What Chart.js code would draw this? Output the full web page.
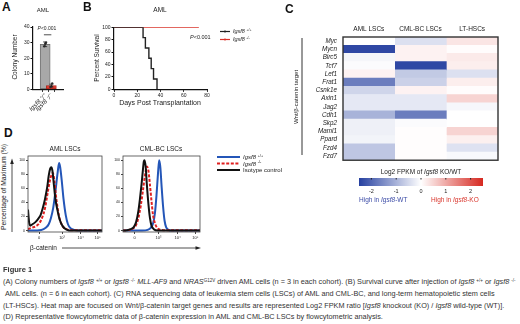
<!DOCTYPE html>
<html>
<head>
<meta charset="utf-8">
<script src="https://cdn.jsdelivr.net/npm/chart.js@4.4.1/dist/chart.umd.min.js"></script>
<style>
  body { margin: 0; background: #fff; }
  #fig { position: relative; width: 520px; height: 324px; overflow: hidden;
         font-family: "Liberation Sans", Arial, sans-serif; color: #222; }
  #fig canvas, #fig .t, #fig svg { position: absolute; }
  .t { white-space: nowrap; line-height: 1; }
  .c { transform: translate(-50%, -50%); }
  .r { transform: translate(-50%, -50%) rotate(-90deg); }
  .lm { transform: translateY(-50%); }
  .let { font-weight: bold; font-size: 12px; color: #111; }
  .cap { font-size: 7.3px; left: 3px; transform: translateY(-50%); color: #333; }
  sup { font-size: 0.62em; vertical-align: 0; position: relative; top: -0.55em; }
</style>
</head>
<body>
<div id="fig">
  <svg width="520" height="324" style="left:0;top:0">
    <line x1="302" y1="38" x2="302" y2="155" stroke="#333" stroke-width="1"/>
    <line x1="12" y1="232" x2="12" y2="163" stroke="#222" stroke-width="0.8"/>
    <polygon points="12,158.5 10.2,164 13.8,164" fill="#222"/>
    <line x1="62" y1="248" x2="196" y2="248" stroke="#222" stroke-width="0.8"/>
    <polygon points="201,248 195.5,246.2 195.5,249.8" fill="#222"/>
    <line x1="220" y1="31.5" x2="230" y2="31.5" stroke="#222" stroke-width="1.2"/>
    <circle cx="225" cy="31.5" r="1.1" fill="#222"/>
    <line x1="220" y1="39.5" x2="230" y2="39.5" stroke="#d9342b" stroke-width="1.2"/>
    <circle cx="225" cy="39.5" r="1.1" fill="#d9342b"/>
    <line x1="217" y1="157" x2="240" y2="157" stroke="#2456b8" stroke-width="2"/>
    <line x1="217" y1="163.5" x2="240" y2="163.5" stroke="#e02020" stroke-width="2" stroke-dasharray="3,1.6"/>
    <line x1="217" y1="170" x2="240" y2="170" stroke="#111" stroke-width="2"/>
  </svg>

  <canvas id="cA" width="70" height="110" style="left:0;top:14px"></canvas>
  <canvas id="cB" width="140" height="100" style="left:82px;top:14px"></canvas>
  <canvas id="cC" width="205" height="150" style="left:300px;top:20px"></canvas>
  <canvas id="cS" width="145" height="26" style="left:350px;top:174px"></canvas>
  <canvas id="cD1" width="95" height="96" style="left:12px;top:148px"></canvas>
  <canvas id="cD2" width="97" height="96" style="left:108px;top:148px"></canvas>

  <div class="t let" style="left:2px;top:1px">A</div>
  <div class="t let" style="left:83px;top:1px">B</div>
  <div class="t let" style="left:285px;top:3px">C</div>
  <div class="t let" style="left:4px;top:127px">D</div>

  <div class="t c" style="left:43px;top:10px;font-size:6px">AML</div>
  <div class="t c" style="left:47px;top:28px;font-size:5px"><i>P</i>&lt;0.001</div>
  <div class="t r" style="left:15px;top:57px;font-size:6.5px">Colony Number</div>

  <div class="t c" style="left:160px;top:10px;font-size:6.5px">AML</div>
  <div class="t lm" style="left:190px;top:37.5px;font-size:5.5px"><i>P</i>&lt;0.001</div>
  <div class="t r" style="left:97px;top:58px;font-size:6.5px">Percent Survival</div>
  <div class="t c" style="left:160px;top:102px;font-size:7px">Days Post Transplantation</div>
  <div class="t lm" style="left:233px;top:31.5px;font-size:5.5px"><i>Igsf8</i> <sup>+/+</sup></div>
  <div class="t lm" style="left:233px;top:39.5px;font-size:5.5px"><i>Igsf8</i> <sup>-/-</sup></div>

  <div class="t r" style="left:296px;top:97px;font-size:6px">Wnt/β-catenin target</div>
  <div class="t c" style="left:421px;top:172px;font-size:6.5px">Log2 FPKM of <i>Igsf8</i> KO/WT</div>
  <div class="t lm" style="left:359px;top:200px;font-size:6.5px;color:#3a4aa6">High in <i>Igsf8</i>-WT</div>
  <div class="t lm" style="left:431px;top:200px;font-size:6.5px;color:#d9342b">High in <i>Igsf8</i>-KO</div>

  <div class="t c" style="left:65px;top:149px;font-size:6.5px">AML LSCs</div>
  <div class="t c" style="left:161px;top:149px;font-size:6.5px">CML-BC LSCs</div>
  <div class="t r" style="left:4px;top:187px;font-size:6.8px">Percentage of Maximum (%)</div>
  <div class="t lm" style="left:30px;top:248px;font-size:6.5px">β-catenin</div>
  <div class="t lm" style="left:243px;top:157px;font-size:6px"><i>Igsf8</i> <sup>+/+</sup></div>
  <div class="t lm" style="left:243px;top:163.5px;font-size:6px"><i>Igsf8</i> <sup>-/-</sup></div>
  <div class="t lm" style="left:243px;top:170px;font-size:6px">Isotype control</div>

  <div class="t lm" style="left:3px;top:270px;font-size:7.5px;font-weight:bold;color:#333">Figure 1</div>
  <div class="t cap" style="top:282px">(A) Colony numbers of <i>Igsf8</i> <sup>+/+</sup> or <i>Igsf8</i> <sup>-/-</sup> <i>MLL-AF9</i> and <i>NRAS</i><sup>G12V</sup> driven AML cells (n = 3 in each cohort). (B) Survival curve after injection of <i>Igsf8</i> <sup>+/+</sup> or <i>Igsf8</i> <sup>-/-</sup></div>
  <div class="t cap" style="top:294px;left:5px">AML cells. (n = 6 in each cohort). (C) RNA sequencing data of leukemia stem cells (LSCs) of AML and CML-BC, and long-term hematopoietic stem cells</div>
  <div class="t cap" style="top:305.5px">(LT-HSCs). Heat map are focused on Wnt/β-catenin target genes and results are represented Log2 FPKM ratio [<i>Igsf8</i> knockout (KO) / <i>Igsf8</i> wild-type (WT)].</div>
  <div class="t cap" style="top:317px">(D) Representative flowcytometric data of β-catenin expression in AML and CML-BC LSCs by flowcytometric analysis.</div>
</div>

<script>
// A: colony numbers
const colonyGroups = ['Igsf8 ⁺/⁺', 'Igsf8 ⁻/⁻'];
const colonyMean = [28.9, 2.4];
const colonyErr = [1.5, 0.9];
const colonyWT = [27.6, 29.2, 29.9];
const colonyKO = [1.4, 2.0, 3.8];
const dotSpread = [-0.14, 0.02, 0.14];
const sigLineY = 35;

// B: survival
const wtDays = [0, 25, 27, 30, 32, 34, 37];
const wtSurvival = [100, 83.3, 66.7, 50, 33.3, 16.7, 0];
const koDays = [0, 73];
const koSurvival = [100, 100];

// C: heat map, log2 FPKM KO/WT
const genes = ['Myc', 'Mycn', 'Birc5', 'Tcf7', 'Lef1', 'Frat1', 'Csnk1e', 'Axin1',
               'Jag2', 'Cdh1', 'Skp2', 'Maml1', 'Ppard', 'Fzd4', 'Fzd7'];
const cellTypes = ['AML LSCs', 'CML-BC LSCs', 'LT-HSCs'];
const amlLog2 = [0, -2.4, -0.12, -0.05, 0.15, -1.7, -0.55, -0.3, -0.3, -1.0, -0.2, -0.2, -0.15, -0.75, -0.75];
const cmlLog2 = [-0.4, 0.15, 0.15, -2.4, -0.7, -0.6, 0.15, -0.3, -0.3, -1.7, -0.05, 0.02, 0.02, 0.02, 0.02];
const ltLog2  = [0.3, 0.03, 0.25, 0.2, -0.4, 0.2, 0.03, 0.5, -0.1, 0, 0, 0.5, 0.18, -0.38, -0.08];
const scaleTicks = [-2, -1, 0, 1, 2];
const blueEnd = [38, 64, 160];
const redEnd = [214, 40, 32];

// D: flow histograms (x = % of axis width, y = % of max)
const flowTickPos = [15, 46, 71, 94];
const flowTickLabels = ['0', '10³', '10⁴', '10⁵'];
const amlIsoX = [0, 1.5, 3, 6, 10, 14, 17, 20, 23, 26, 28, 30, 31.5, 33, 35, 37, 40, 43, 47, 52, 60, 100];
const amlIsoY = [30, 12, 7, 9, 12, 17, 22, 32, 45, 62, 78, 88, 90, 85, 65, 45, 28, 15, 6, 1.5, 0, 0];
const amlKoX = [0, 5, 10, 15, 19, 23, 26, 29, 31, 33.5, 35.5, 37.5, 40, 43, 47, 52, 58, 100];
const amlKoY = [2, 4, 6, 10, 18, 32, 50, 68, 77, 82, 72, 52, 32, 16, 6, 2, 0.5, 0.5];
const amlWtX = [0, 18, 24, 28, 31, 34, 37, 40, 42, 43.5, 45.5, 48, 51, 54, 58, 63, 68, 100];
const amlWtY = [0, 1, 4, 9, 18, 32, 55, 82, 96, 90, 72, 45, 22, 9, 3, 1, 0, 0];
const cmlIsoX = [0, 5, 10, 14, 17, 20, 22, 24, 25.5, 27, 28, 29.5, 31, 33, 35, 37, 40, 45, 100];
const cmlIsoY = [0, 0.5, 2, 5, 12, 28, 45, 65, 82, 98, 100, 90, 65, 38, 18, 7, 2, 0, 0];
const cmlKoX = [0, 8, 13, 17, 20, 23, 26, 28.5, 31, 33, 35, 37, 39, 42, 45, 50, 55, 100];
const cmlKoY = [0, 1, 3, 8, 18, 35, 58, 78, 91, 85, 65, 42, 22, 9, 3, 1, 0.5, 0.5];
const cmlWtX = [0, 25, 32, 36, 39, 41.5, 43.5, 45.5, 47, 48.5, 50, 52, 54, 56, 59, 63, 100];
const cmlWtY = [0, 0, 1, 4, 10, 25, 50, 82, 100, 90, 65, 35, 14, 5, 1, 0, 0];

Chart.defaults.font.family = '"Liberation Sans", Arial, sans-serif';
Chart.defaults.color = '#222';
Chart.defaults.animation = false;
Chart.defaults.responsive = false;
Chart.defaults.plugins.legend.display = false;
Chart.defaults.plugins.tooltip.enabled = false;

const pts = (xs, ys) => xs.map((x, i) => ({ x: x, y: ys[i] }));

function heatColor(v) {
    const t = Math.min(Math.abs(v) / 2.5, 1);
    const end = v < 0 ? blueEnd : redEnd;
    return 'rgb(' + end.map(e => Math.round(255 + (e - 255) * t)).join(',') + ')';
}

const frame = (color, width) => ({
    id: 'frame',
    afterDraw(chart) {
        const a = chart.chartArea, ctx = chart.ctx;
        ctx.save();
        ctx.strokeStyle = color;
        ctx.lineWidth = width;
        ctx.strokeRect(a.left, a.top, a.right - a.left, a.bottom - a.top);
        ctx.restore();
    }
});

// ---- A ----
new Chart(document.getElementById('cA'), {
    type: 'bar',
    data: {
        datasets: [
            {
                type: 'scatter',
                data: colonyWT.map((v, i) => ({ x: dotSpread[i], y: v }))
                    .concat(colonyKO.map((v, i) => ({ x: 1 + dotSpread[i], y: v }))),
                pointRadius: 1.2,
                backgroundColor: '#333',
                borderWidth: 0
            },
            {
                data: colonyMean.map((v, i) => ({ x: i, y: v })),
                backgroundColor: ['#a8a8a8', '#dc3a2e'],
                borderColor: ['#666', '#a82820'],
                borderWidth: 0.8,
                borderSkipped: false,
                barThickness: 10
            }
        ]
    },
    options: {
        devicePixelRatio: 1,
        layout: { padding: { left: 0, right: 7, top: 13, bottom: 0 } },
        scales: {
            x: {
                type: 'linear', min: -0.75, max: 1.67,
                afterFit: s => { s.height = 34.7; },
                afterBuildTicks: s => { s.ticks = [{ value: 0 }, { value: 1 }]; },
                ticks: { callback: v => colonyGroups[v], minRotation: 45, maxRotation: 45, autoSkip: false,
                         font: { size: 6.2, style: 'italic' }, padding: 1 },
                grid: { drawOnChartArea: false, tickLength: 2.5, color: '#111' },
                border: { color: '#111', width: 1.2 }
            },
            y: {
                min: 0, max: 40,
                afterFit: s => { s.width = 33; },
                ticks: { stepSize: 10, font: { size: 5 }, padding: 1 },
                grid: { drawOnChartArea: false, tickLength: 2.5, color: '#111' },
                border: { color: '#111', width: 1.2 }
            }
        }
    },
    plugins: [{
        id: 'errBars',
        afterDatasetsDraw(chart) {
            const { ctx, scales: { x, y } } = chart;
            ctx.save();
            ctx.strokeStyle = '#222';
            ctx.lineWidth = 0.8;
            colonyMean.forEach((m, i) => {
                const px = x.getPixelForValue(i);
                const top = y.getPixelForValue(m + colonyErr[i]);
                const bot = y.getPixelForValue(m - colonyErr[i]);
                ctx.beginPath();
                ctx.moveTo(px, top); ctx.lineTo(px, bot);
                ctx.moveTo(px - 2, top); ctx.lineTo(px + 2, top);
                ctx.moveTo(px - 2, bot); ctx.lineTo(px + 2, bot);
                ctx.stroke();
            });
            const yb = y.getPixelForValue(sigLineY);
            ctx.beginPath();
            ctx.moveTo(x.getPixelForValue(-0.2), yb);
            ctx.lineTo(x.getPixelForValue(1), yb);
            ctx.stroke();
            ctx.restore();
        }
    }]
});

// ---- B ----
new Chart(document.getElementById('cB'), {
    type: 'line',
    data: {
        datasets: [
            { data: pts(wtDays, wtSurvival), borderColor: '#222', borderWidth: 1.4, stepped: true, pointRadius: 0 },
            { data: pts(koDays, koSurvival), borderColor: '#d9342b', borderWidth: 1.2, pointRadius: 0 }
        ]
    },
    options: {
        devicePixelRatio: 1,
        layout: { padding: { left: 0, right: 15, top: 13.3, bottom: 0 } },
        scales: {
            x: {
                type: 'linear', min: 0, max: 80,
                afterFit: s => { s.height = 24.7; },
                ticks: { stepSize: 20, font: { size: 5 }, padding: 1, maxRotation: 0 },
                grid: { drawOnChartArea: false, tickLength: 2.5, color: '#111' },
                border: { color: '#111', width: 1.2 }
            },
            y: {
                min: 0, max: 100,
                afterFit: s => { s.width = 32; },
                ticks: { stepSize: 20, font: { size: 5 }, padding: 1 },
                grid: { drawOnChartArea: false, tickLength: 2.5, color: '#111' },
                border: { color: '#111', width: 1.2 }
            }
        }
    }
});

// ---- C heat map ----
new Chart(document.getElementById('cC'), {
    type: 'bar',
    data: {
        labels: genes,
        datasets: [amlLog2, cmlLog2, ltLog2].map(vals => ({
            data: vals.map(() => 1),
            backgroundColor: vals.map(heatColor),
            borderWidth: 0,
            barPercentage: 1,
            categoryPercentage: 1
        }))
    },
    options: {
        devicePixelRatio: 1,
        indexAxis: 'y',
        layout: { padding: { left: 0, right: 7, top: 0, bottom: 8 } },
        scales: {
            x: {
                stacked: true, min: 0, max: 3, position: 'top',
                afterFit: s => { s.height = 17; },
                afterBuildTicks: s => { s.ticks = [0.5, 1.5, 2.5].map(v => ({ value: v })); },
                ticks: { callback: v => cellTypes[Math.floor(v)], autoSkip: false, maxRotation: 0,
                         font: { size: 6.5 }, padding: 4 },
                grid: { display: false, drawTicks: false },
                border: { display: false }
            },
            y: {
                stacked: true,
                afterFit: s => { s.width = 43; },
                ticks: { font: { size: 6.3, style: 'italic' }, padding: 6, autoSkip: false },
                grid: { display: false, drawTicks: false },
                border: { display: false }
            }
        }
    },
    plugins: [frame('#333', 1.4)]
});

// ---- C colour scale ----
new Chart(document.getElementById('cS'), {
    type: 'bar',
    data: {
        labels: ['scale'],
        datasets: [{
            data: [[-2.5, 2.5]],
            backgroundColor: c => {
                const a = c.chart.chartArea;
                if (!a) return '#fff';
                const g = c.chart.ctx.createLinearGradient(a.left, 0, a.right, 0);
                g.addColorStop(0, heatColor(-2.5));
                g.addColorStop(0.5, '#ffffff');
                g.addColorStop(1, heatColor(2.5));
                return g;
            },
            borderWidth: 0,
            barPercentage: 1,
            categoryPercentage: 1
        }]
    },
    options: {
        devicePixelRatio: 1,
        indexAxis: 'y',
        layout: { padding: { left: 9, right: 12, top: 4, bottom: 0 } },
        scales: {
            x: {
                min: -2.5, max: 2.5,
                afterFit: s => { s.height = 14; },
                afterBuildTicks: s => { s.ticks = scaleTicks.map(v => ({ value: v })); },
                ticks: { font: { size: 5.5 }, padding: 2, autoSkip: false, maxRotation: 0 },
                grid: { display: false, drawTicks: false },
                border: { display: false }
            },
            y: { display: false }
        }
    },
    plugins: [{
        id: 'tickDots',
        afterDraw(chart) {
            const { ctx, chartArea: a, scales: { x } } = chart;
            ctx.save();
            ctx.fillStyle = '#222';
            scaleTicks.forEach(v => ctx.fillRect(x.getPixelForValue(v) - 0.5, a.top, 1, 1.5));
            ctx.restore();
        }
    }]
});

// ---- D flow histograms ----
function flowChart(id, iso, ko, wt, yWidth, padRight) {
    const line = (d, color, dash) => ({
        data: d, borderColor: color, borderWidth: 2, borderDash: dash,
        pointRadius: 0, cubicInterpolationMode: 'monotone'
    });
    new Chart(document.getElementById(id), {
        type: 'line',
        data: {
            datasets: [
                line(iso, '#111', []),
                line(ko, '#e02020', [3, 1.6]),
                line(wt, '#2456b8', [])
            ]
        },
        options: {
            devicePixelRatio: 1,
            layout: { padding: { left: 0, right: padRight, top: 8, bottom: 0 } },
            scales: {
                x: {
                    type: 'linear', min: 0, max: 100,
                    afterFit: s => { s.height = 12; },
                    afterBuildTicks: s => { s.ticks = flowTickPos.map(v => ({ value: v })); },
                    ticks: { callback: (v, i) => flowTickLabels[i], font: { size: 4 }, padding: 1, maxRotation: 0, autoSkip: false },
                    grid: { drawOnChartArea: false, tickLength: 2, color: '#444' },
                    border: { display: false }
                },
                y: {
                    min: -2, max: 106,
                    afterFit: s => { s.width = yWidth; },
                    afterBuildTicks: s => { s.ticks = [0, 20, 40, 60, 80, 100].map(v => ({ value: v })); },
                    ticks: { font: { size: 3.5 }, padding: 1 },
                    grid: { drawOnChartArea: false, tickLength: 2, color: '#444' },
                    border: { display: false }
                }
            }
        },
        plugins: [frame('#444', 0.8)]
    });
}

flowChart('cD1', pts(amlIsoX, amlIsoY), pts(amlKoX, amlKoY), pts(amlWtX, amlWtY), 16, 5);
flowChart('cD2', pts(cmlIsoX, cmlIsoY), pts(cmlKoX, cmlKoY), pts(cmlWtX, cmlWtY), 15, 5);
</script>
</body>
</html>
